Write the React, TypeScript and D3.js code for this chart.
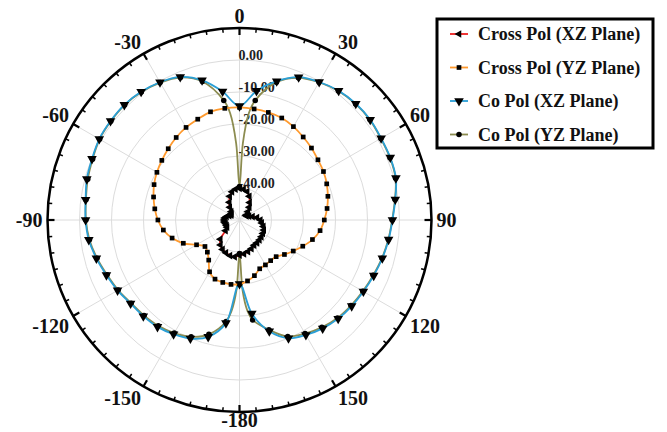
import React, { useRef, useEffect } from 'react';
import * as d3 from 'd3';

// angles in degrees, 0 at top, clockwise
const angles = d3.range(-180, 180, 7.5);

// gain in dB at each angle (-180 ... 172.5)
const crossPolXZ = [
  -39.0, -38.4, -38.5, -38.9, -39.4, -40.2, -41.5, -44.5, -45.5, -45.6, -45.5, -45.2,
  -45.2, -45.3, -45.8, -46.5, -47.0, -46.8, -46.3, -45.0, -43.6, -42.0, -40.9, -40.3,
  -40.1, -40.3, -40.8, -42.0, -43.7, -45.0, -46.3, -47.5, -47.5, -46.8, -45.8, -44.5,
  -43.5, -43.0, -42.3, -41.8, -41.6, -41.4, -41.2, -41.0, -40.9, -40.3, -39.8, -39.3,
];
const crossPolYZ = [
  -30.0, -29.7, -29.8, -30.0, -31.3, -34.2, -35.8, -36.4, -34.5, -31.0, -28.2, -26.0,
  -24.5, -23.3, -22.2, -21.1, -20.2, -19.4, -18.5, -17.5, -16.6, -15.9, -15.0, -14.8,
  -14.8, -15.0, -15.2, -15.5, -16.3, -17.3, -18.2, -19.1, -19.7, -20.5, -21.4, -22.4,
  -23.5, -24.6, -26.4, -28.6, -30.6, -32.3, -33.8, -34.0, -33.8, -33.5, -32.0, -30.8,
];
const coPolXZ = [
  -30.0, -17.5, -12.2, -9.9, -8.8, -7.9, -7.5, -7.1, -6.0, -5.0, -3.7, -2.5,
  -1.9, -1.5, -0.6, -0.1, 0.6, 0.8, 0.9, 0.5, -0.3, -1.6, -4.8, -9.5,
  -14.4, -9.3, -5.1, -1.7, -0.2, 0.9, 1.4, 1.5, 1.1, 1.0, 0.6, -0.9,
  -2.2, -3.0, -3.8, -4.6, -5.3, -5.8, -6.4, -7.3, -8.5, -10.0, -14.0, -20.5,
];
const coPolYZ = [
  -39.5, -18.0, -13.0, -10.5, -9.2, -8.3, -7.8, -7.3, -6.2, -5.2, -3.9, -2.7,
  -2.0, -1.6, -0.9, -0.3, 0.5, 0.7, 0.8, 0.4, -0.4, -1.8, -5.2, -12.3,
  -39.5, -12.3, -5.4, -1.9, -0.3, 0.8, 1.3, 1.4, 1.0, 0.9, 0.5, -1.0,
  -2.3, -3.1, -3.9, -4.8, -5.5, -6.1, -6.7, -7.7, -9.0, -10.6, -14.5, -18.5,
];
// extra points inside the narrow nulls of Co Pol (YZ), drawn without markers
const coPolYZNullAngles = [-177.5, -175, -5, -2.5, 2.5, 5, 175, 177.5];
const coPolYZNullValues = [-28, -21.5, -16.5, -26, -26, -16.5, -21.5, -28];

const radialTicks = [0, -10, -20, -30, -40];
const angleTicks = [0, 30, 60, 90, 120, 150, 180, -150, -120, -90, -60, -30];
const angleLabels = ['0', '30', '60', '90', '120', '150', '-180', '-150', '-120', '-90', '-60', '-30'];

const seriesNames = ['Cross Pol (XZ Plane)', 'Cross Pol (YZ Plane)', 'Co Pol (XZ Plane)', 'Co Pol (YZ Plane)'];

export default function App() {
  const svgRef = useRef(null);

  const width = 667;
  const height = 432;
  const cx = 239.5;
  const cy = 220;
  const R = 192;

  useEffect(() => {
    const svg = d3.select(svgRef.current);
    svg.selectAll('*').remove();

    const rScale = d3.scaleLinear().domain([-50, 10]).range([0, R]);
    const rad = (d: number) => (d * Math.PI) / 180;

    const g = svg.append('g').attr('transform', `translate(${cx},${cy})`);

    // grid
    radialTicks.forEach((v) => {
      g.append('circle').attr('r', rScale(v)).attr('fill', 'none').attr('stroke', '#dcdcdc').attr('stroke-width', 1);
    });
    d3.range(0, 360, 30).forEach((a) => {
      g.append('line')
        .attr('x1', 0).attr('y1', 0)
        .attr('x2', R * Math.sin(rad(a))).attr('y2', -R * Math.cos(rad(a)))
        .attr('stroke', '#dcdcdc').attr('stroke-width', 1);
    });

    // radial labels
    radialTicks.forEach((v) => {
      g.append('text')
        .attr('x', -1).attr('y', -rScale(v))
        .attr('font-family', 'Liberation Serif, serif').attr('font-weight', 'bold')
        .attr('font-size', 14).attr('fill', '#222')
        .text(v.toFixed(2));
    });

    // series
    const series = [
      { name: seriesNames[3], vals: coPolYZ, color: '#8c8c50', symbol: d3.symbolCircle, size: 24, rot: 0 },
      { name: seriesNames[2], vals: coPolXZ, color: '#2a9fd6', symbol: d3.symbolTriangle, size: 40, rot: 180 },
      { name: seriesNames[1], vals: crossPolYZ, color: '#ff9a2e', symbol: d3.symbolSquare, size: 22, rot: 0 },
      { name: seriesNames[0], vals: crossPolXZ, color: '#ee2020', symbol: d3.symbolTriangle, size: 26, rot: -90 },
    ];

    const line = d3.lineRadial<{ a: number; v: number }>()
      .angle((d) => rad(d.a))
      .radius((d) => rScale(d.v))
      .curve(d3.curveCatmullRomClosed.alpha(0.5));

    series.forEach((s, si) => {
      let pts = angles.map((a, i) => ({ a, v: s.vals[i], mark: true }));
      if (si === 0) {
        pts = pts.concat(coPolYZNullAngles.map((a, i) => ({ a, v: coPolYZNullValues[i], mark: false })));
        pts.sort((p, q) => p.a - q.a);
      }
      g.append('path')
        .datum(pts)
        .attr('d', line as any)
        .attr('fill', 'none')
        .attr('stroke', s.color)
        .attr('stroke-width', 1.8);

      const sym = d3.symbol().type(s.symbol).size(s.size);
      g.selectAll(null)
        .data(pts.filter((p) => p.mark))
        .enter()
        .append('path')
        .attr('d', sym() as string)
        .attr('fill', '#000')
        .attr('transform', (p) => {
          const r = rScale(p.v);
          return `translate(${r * Math.sin(rad(p.a))},${-r * Math.cos(rad(p.a))}) rotate(${s.rot})`;
        });
    });

    // outer circle and ticks
    g.append('circle').attr('r', R).attr('fill', 'none').attr('stroke', '#000').attr('stroke-width', 2.5);
    d3.range(0, 360, 5).forEach((a) => {
      const major = a % 30 === 0;
      const len = major ? 7 : 4;
      const s = Math.sin(rad(a));
      const c = Math.cos(rad(a));
      g.append('line')
        .attr('x1', R * s).attr('y1', -R * c)
        .attr('x2', (R - len) * s).attr('y2', -(R - len) * c)
        .attr('stroke', '#000').attr('stroke-width', major ? 2.2 : 1.5);
    });

    // angle labels
    angleTicks.forEach((a, i) => {
      const s = Math.sin(rad(a));
      const c = Math.cos(rad(a));
      const rr = c < -0.9 ? R + 3 : R + 5;
      g.append('text')
        .attr('x', rr * s).attr('y', -rr * c)
        .attr('dy', c > 0.1 ? '0em' : c < -0.9 ? '0.62em' : c < -0.1 ? '0.7em' : '0.35em')
        .attr('text-anchor', Math.abs(s) < 0.1 ? 'middle' : s > 0 ? 'start' : 'end')
        .attr('font-family', 'Liberation Serif, serif').attr('font-weight', 'bold')
        .attr('font-size', 20).attr('fill', '#111')
        .text(angleLabels[i]);
    });

    // legend
    const lg = svg.append('g');
    lg.append('rect')
      .attr('x', 437).attr('y', 19).attr('width', 216).attr('height', 129)
      .attr('fill', '#fff').attr('stroke', '#000').attr('stroke-width', 3);
    const legendOrder = [series[3], series[2], series[1], series[0]];
    legendOrder.forEach((s, i) => {
      const y = 34 + i * 33.5;
      lg.append('line')
        .attr('x1', 450).attr('x2', 468).attr('y1', y).attr('y2', y)
        .attr('stroke', s.color).attr('stroke-width', 1.8);
      lg.append('path')
        .attr('d', d3.symbol().type(s.symbol).size(s.size)() as string)
        .attr('transform', `translate(459,${y}) rotate(${s.rot})`)
        .attr('fill', '#000');
      lg.append('text')
        .attr('x', 478).attr('y', y).attr('dy', '0.35em')
        .attr('font-family', 'Liberation Serif, serif').attr('font-weight', 'bold')
        .attr('font-size', 18).attr('fill', '#111')
        .text(s.name);
    });
  }, []);

  return (
    <svg
      ref={svgRef}
      width={width}
      height={height}
      style={{ position: 'absolute', left: 0, top: 0, background: '#fff' }}
    ></svg>
  );
}
